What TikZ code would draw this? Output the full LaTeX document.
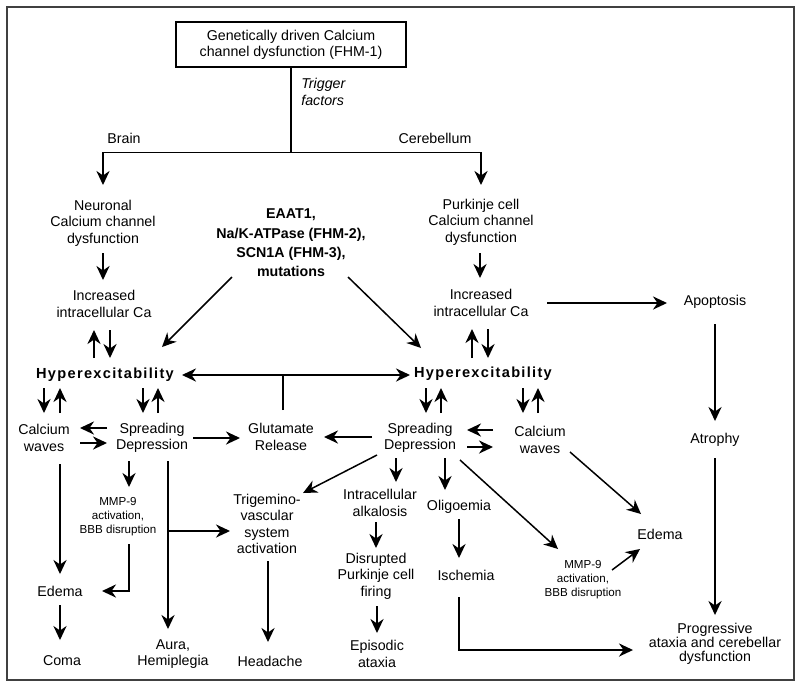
\documentclass[tikz,border=0pt]{standalone}
\usepackage{fontspec}
\setmainfont{Liberation Sans}
\usetikzlibrary{arrows.meta,calc}
\begin{document}
\begin{tikzpicture}[x=0.02cm,y=-0.02cm,
  bigtip/.tip={Stealth[length=8pt,width=7.5pt,inset=2.6pt]},
  arr/.style={-bigtip, line width=0.85pt},
  dbl/.style={bigtip-bigtip, line width=0.85pt},
  ln/.style={line width=0.85pt},
  lbl/.style={font=\fontsize{8.1}{9.3}\selectfont, align=center, inner sep=0pt},
  lblb/.style={font=\fontsize{8.1}{11}\selectfont\bfseries, align=center, inner sep=0pt},
  lbls/.style={font=\fontsize{6.6}{7.9}\selectfont, align=center, inner sep=0pt},
  hyp/.style={font=\fontsize{8.3}{10}\selectfont\bfseries\addfontfeature{LetterSpace=9}, inner sep=0pt}]
\useasboundingbox (0,0) rectangle (800,687);
\draw[line width=0.6pt, black!75] (7,7) rectangle (794,680);

% nodes
\node[draw, line width=0.85pt, minimum width=4.6cm, minimum height=0.9cm, lbl] (top) at (291,44.5) {Genetically driven Calcium\\channel dysfunction (FHM-1)};
\node[lbl, anchor=west, align=left, font=\fontsize{8.1}{9.3}\selectfont\itshape] (trig0) at (301,92) {Trigger\\factors};
\node[lbl] (brain) at (124,138) {Brain};
\node[lbl] (cereb) at (435,138) {Cerebellum};
\node[lbl] (neur) at (103,223) {Neuronal\\Calcium channel\\dysfunction};
\node[lblb] (egen) at (291,243) {EAAT1,\\Na/K-ATPase (FHM-2),\\SCN1A (FHM-3),\\mutations};
\node[lbl] (purk) at (481,222) {Purkinje cell\\Calcium channel\\dysfunction};
\node[lbl] (inc1) at (104,304) {Increased\\intracellular Ca};
\node[lbl] (inc2) at (481,303) {Increased\\intracellular Ca};
\node[lbl] (apop) at (715,302) {Apoptosis};
\node[hyp] (hyp1) at (105,375) {Hyperexcitability};
\node[hyp] (hyp2) at (483,374) {Hyperexcitability};
\node[lbl] (cw1) at (44,438) {Calcium\\waves};
\node[lbl] (sd1) at (152,438) {Spreading\\Depression};
\node[lbl] (glu) at (281,437) {Glutamate\\Release};
\node[lbl] (sd2) at (420,438) {Spreading\\Depression};
\node[lbl] (cw2) at (540,440) {Calcium\\waves};
\node[lbl] (atro) at (715,440) {Atrophy};
\node[lbls] (mmp1) at (118,517) {MMP-9\\activation,\\BBB disruption};
\node[lbl] (edema1) at (60,591) {Edema};
\node[lbl] (coma) at (62,661) {Coma};
\node[lbl] (aura) at (173,654) {Aura,\\Hemiplegia};
\node[lbl] (trig) at (267,524) {Trigemino-\\vascular\\system\\activation};
\node[lbl] (head) at (270,661) {Headache};
\node[lbl] (intra) at (380,503) {Intracellular\\alkalosis};
\node[lbl] (disr) at (376,576) {Disrupted\\Purkinje cell\\firing};
\node[lbl] (epis) at (377,654) {Episodic\\ataxia};
\node[lbl] (olig) at (459,507) {Oligoemia};
\node[lbl] (isch) at (466,575) {Ischemia};
\node[lbls] (mmp2) at (583,580) {MMP-9\\activation,\\BBB disruption};
\node[lbl] (edema2) at (660,534) {Edema};
\node[lbl, font=\fontsize{8.1}{8}\selectfont] (prog) at (715,644) {Progressive\\ataxia and cerebellar\\dysfunction};

% connectors
\coordinate (split) at ($(top.south)+(0,85)$);
\draw[ln] (top.south) -- (split);
\draw[arr] (split) -| ($(neur)+(0,-38)$);
\draw[arr] (split) -| ($(purk)+(0,-37)$);
\draw[arr] ($(neur)+(0,30)$) -- ($(inc1)+(-1,-24)$);
\draw[arr] ($(purk)+(-1,31)$) -- ($(inc2)+(-1,-25)$);
\draw[arr] ($(inc2)+(66,0)$) -- ($(apop)+(-48,1)$);
\draw[arr] ($(hyp1)+(-11,-17)$) -- ($(inc1)+(-10,26)$);
\draw[arr] ($(inc1)+(6,26)$) -- ($(hyp1)+(5,-17)$);
\draw[arr] ($(hyp2)+(-11,-16)$) -- ($(inc2)+(-9,26)$);
\draw[arr] ($(inc2)+(7,26)$) -- ($(hyp2)+(5,-16)$);
\draw[dbl] ($(hyp1)+(77,0)$) -- ($(hyp2)+(-73,1)$);
\draw[ln] ($(glu)+(2,-27)$) -- ($(glu)+(2,-62)$);
\draw[arr] ($(egen)+(-59,34)$) -- ($(hyp1)+(57,-28)$);
\draw[arr] ($(egen)+(57,34)$) -- ($(hyp2)+(-62,-26)$);
\draw[arr] ($(hyp1)+(-61,13)$) -- ($(cw1)+(0,-25)$);
\draw[arr] ($(cw1)+(16,-25)$) -- ($(hyp1)+(-45,13)$);
\draw[arr] ($(hyp1)+(38,13)$) -- ($(sd1)+(-9,-25)$);
\draw[arr] ($(sd1)+(6,-25)$) -- ($(hyp1)+(53,13)$);
\draw[arr] ($(hyp2)+(-57,14)$) -- ($(sd2)+(6,-25)$);
\draw[arr] ($(sd2)+(21,-25)$) -- ($(hyp2)+(-42,14)$);
\draw[arr] ($(hyp2)+(40,14)$) -- ($(cw2)+(-17,-27)$);
\draw[arr] ($(cw2)+(-2,-27)$) -- ($(hyp2)+(55,14)$);
\draw[arr] ($(sd1)+(-45,-10)$) -- ($(cw1)+(36,-10)$);
\draw[arr] ($(cw1)+(36,5)$) -- ($(sd1)+(-45,5)$);
\draw[arr] ($(sd1)+(41,0)$) -- ($(glu)+(-41,1)$);
\draw[arr] ($(sd2)+(-48,-1)$) -- ($(glu)+(43,0)$);
\draw[arr] ($(cw2)+(-47,-10)$) -- ($(sd2)+(47,-8)$);
\draw[arr] ($(sd2)+(47,9)$) -- ($(cw2)+(-47,7)$);
\draw[arr] ($(cw1)+(16,26)$) -- ($(edema1)+(0,-17)$);
\draw[arr] ($(edema1)+(0,14)$) -- ($(coma)+(-2,-21)$);
\draw[arr] ($(sd1)+(-23,23)$) -- ($(mmp1)+(11,-30)$);
\draw[arr] ($(mmp1)+(11,27)$) |- ($(edema1)+(42,0)$);
\draw[arr] ($(sd1)+(16,23)$) -- ($(aura)+(-5,-25)$);
\draw[arr] ($(sd1)+(16,93)$) -- ($(trig)+(-37,7)$);
\draw[arr] ($(sd2)+(-43,17)$) -- ($(trig)+(36,-31)$);
\draw[arr] ($(trig)+(1,37)$) -- ($(head)+(-2,-19)$);
\draw[arr] ($(sd2)+(-24,20)$) -- ($(intra)+(16,-21)$);
\draw[arr] ($(intra)+(-4,19)$) -- ($(disr)+(0,-28)$);
\draw[arr] ($(disr)+(1,30)$) -- ($(epis)+(0,-21)$);
\draw[arr] ($(sd2)+(25,20)$) -- ($(olig)+(-14,-17)$);
\draw[arr] ($(olig)+(0,12)$) -- ($(isch)+(-7,-17)$);
\draw[arr] ($(isch)+(-7,22)$) |- ($(prog)+(-82,6)$);
\draw[arr] ($(sd2)+(40,22)$) -- ($(mmp2)+(-25,-31)$);
\draw[arr] ($(mmp2)+(29,-10)$) -- ($(edema2)+(-20,15)$);
\draw[arr] ($(cw2)+(30,12)$) -- ($(edema2)+(-19,-20)$);
\draw[arr] ($(apop)+(0,22)$) -- ($(atro)+(0,-19)$);
\draw[arr] ($(atro)+(0,18)$) -- ($(prog)+(0,-29)$);
\end{tikzpicture}
\end{document}
